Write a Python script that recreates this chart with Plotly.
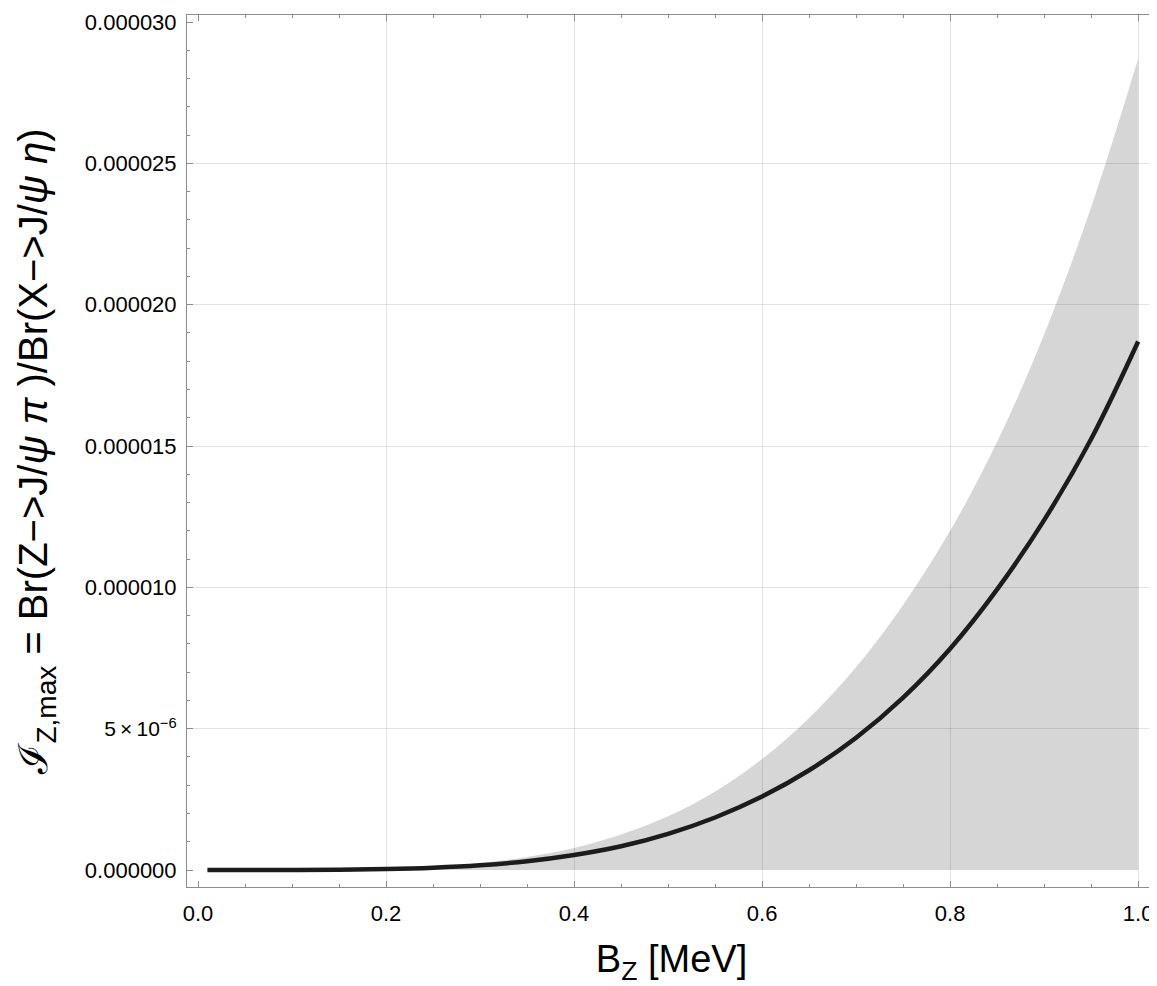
import plotly.graph_objects as go

# B_Z [MeV]
bz = [0.01, 0.05, 0.10, 0.15, 0.20, 0.25, 0.30, 0.35, 0.40, 0.45, 0.50,
      0.55, 0.60, 0.65, 0.70, 0.75, 0.80, 0.85, 0.90, 0.95, 1.00]
# central curve (units of 1e-6)
central_e6 = [0.0, 0.0, 0.0024, 0.011, 0.035, 0.084, 0.17, 0.31, 0.53, 0.84, 1.28,
              1.86, 2.60, 3.53, 4.68, 6.10, 7.83, 9.93, 12.38, 15.25, 18.7]
# upper edge of the band (units of 1e-6), lower edge is zero
upper_e6 = [0.0, 0.0, 0.003, 0.017, 0.051, 0.12, 0.25, 0.46, 0.78, 1.26, 1.90,
            2.78, 3.93, 5.38, 7.18, 9.38, 12.0, 15.15, 18.95, 23.45, 28.7]
lower_e6 = [0.0] * len(bz)

x_ticks = [0.0, 0.2, 0.4, 0.6, 0.8, 1.0]
x_ticklabels = ["0.0", "0.2", "0.4", "0.6", "0.8", "1.0"]
y_ticks = [0.0, 5e-6, 1e-5, 1.5e-5, 2e-5, 2.5e-5, 3e-5]
y_ticklabels = ["0.000000",
                "<span style='font-size:21px'>5\u2009\u00d7\u200910<sup>\u22126</sup></span>",
                "0.000010", "0.000015", "0.000020", "0.000025", "0.000030"]
x_grid = [0.2, 0.4, 0.6, 0.8, 1.0]
y_grid = [5e-6, 1e-5, 1.5e-5, 2e-5, 2.5e-5]

central = [v * 1e-6 for v in central_e6]
upper = [v * 1e-6 for v in upper_e6]
lower = [v * 1e-6 for v in lower_e6]

XR = [-0.0117, 1.019]
YR = [-0.60e-6, 30.25e-6]
FRAME = "#8c8c8c"
FONT = "Liberation Sans, Arial, sans-serif"

fig = go.Figure()
fig.add_trace(go.Scatter(x=bz, y=lower, mode="lines", line=dict(width=0),
                         showlegend=False, hoverinfo="skip"))
fig.add_trace(go.Scatter(x=bz, y=upper, mode="lines", line=dict(width=0, shape="spline"),
                         fill="tonexty", fillcolor="rgba(0,0,0,0.16)",
                         showlegend=False, hoverinfo="skip"))
fig.add_trace(go.Scatter(x=bz, y=central, mode="lines",
                         line=dict(color="#1c1c1c", width=4.5, shape="spline"),
                         showlegend=False))
# empty trace to carry the grid overlay axes
fig.add_trace(go.Scatter(x=[], y=[], xaxis="x2", yaxis="y2", showlegend=False))

fig.update_layout(
    width=1149, height=978,
    margin=dict(l=179, r=1, t=7, b=99),
    paper_bgcolor="white", plot_bgcolor="white",
    font=dict(family=FONT, color="black", size=22),
    xaxis=dict(
        range=XR, tickmode="array", tickvals=x_ticks, ticktext=x_ticklabels,
        showgrid=False, zeroline=False,
        showline=True, linecolor=FRAME, linewidth=1, mirror="allticks",
        ticks="inside", ticklen=6, tickcolor=FRAME, tickwidth=1,
        minor=dict(dtick=0.05, tick0=0, ticks="inside", ticklen=3, tickcolor=FRAME, showgrid=False),
        tickfont=dict(size=22, family=FONT, color="black"),
        ticklabelstandoff=7,
        title=dict(text="B<sub>Z</sub> [MeV]", font=dict(size=38, family=FONT, color="black"),
                   standoff=23),
    ),
    yaxis=dict(
        range=YR, tickmode="array", tickvals=y_ticks, ticktext=y_ticklabels,
        showgrid=False, zeroline=False,
        showline=True, linecolor=FRAME, linewidth=1, mirror="allticks",
        ticks="inside", ticklen=6, tickcolor=FRAME, tickwidth=1,
        minor=dict(dtick=1e-6, tick0=0, ticks="inside", ticklen=3, tickcolor=FRAME, showgrid=False),
        tickfont=dict(size=22, family=FONT, color="black"),
        ticklabelstandoff=5,
        title=dict(text="\u2110<sub>Z,max</sub> = Br(Z\u2212>J/<i>\u03c8 \u03c0</i> )/Br(X\u2212>J/<i>\u03c8 \u03b7</i>)",
                   font=dict(size=40, family=FONT, color="black"), standoff=24),
    ),
    xaxis2=dict(range=XR, overlaying="x", anchor="y2", tickmode="array", tickvals=x_grid,
                showticklabels=False, ticks="", showgrid=True, gridcolor="rgba(0,0,0,0.11)",
                gridwidth=1, zeroline=False, showline=False),
    yaxis2=dict(range=YR, overlaying="y", anchor="x2", tickmode="array", tickvals=y_grid,
                showticklabels=False, ticks="", showgrid=True, gridcolor="rgba(0,0,0,0.11)",
                gridwidth=1, zeroline=False, showline=False),
)

fig.write_html("out.html")
